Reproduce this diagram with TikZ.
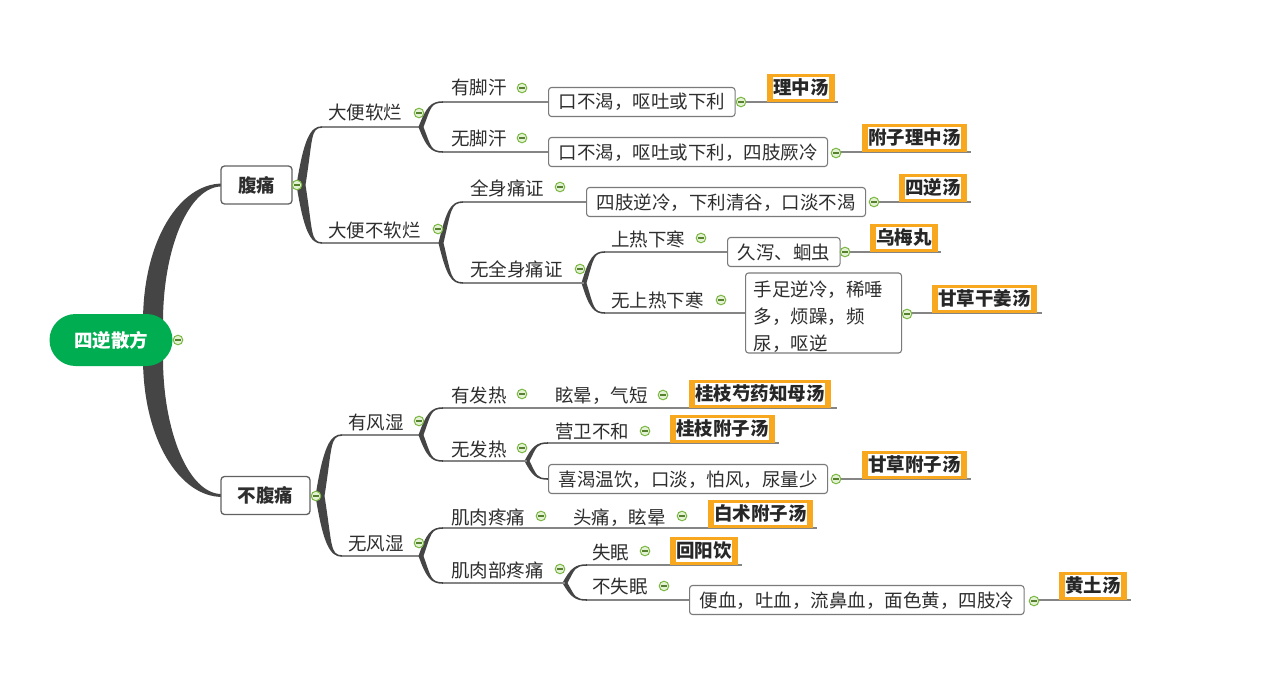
\documentclass[tikz,border=0pt]{standalone}
\usepackage{fontspec}
\setmainfont{Noto Sans CJK SC}
\usetikzlibrary{calc}
\setlength{\fboxsep}{0pt}
\definecolor{txt}{HTML}{2E2E2E}
\definecolor{brc}{HTML}{454545}
\definecolor{ulc}{HTML}{858585}
\definecolor{bxc}{HTML}{7A7A7A}
\definecolor{orc}{HTML}{F7A81E}
\definecolor{grn}{HTML}{00AD50}
\definecolor{mkd}{HTML}{7CB843}
\definecolor{mkf}{HTML}{E3F2D5}
\newcommand\myfs{\fontsize{18.5}{27}\selectfont}
% tapered branch: x0 y0 x1 y1 width
\newcommand\brnch[5]{%
  \pgfmathsetmacro\bdx{#3-#1}%
  \pgfmathsetmacro\bdy{#4-#2}%
  \pgfmathsetmacro\bhw{#5/2}%
  \pgfmathsetmacro\bsg{(#4>#2 ? 1 : -1)*0.8}%
  \pgfmathsetmacro\bya{#4+\bsg}%
  \pgfmathsetmacro\byb{#4-\bsg}%
  \pgfmathsetmacro\bcax{#1+0.35*\bdx}%
  \pgfmathsetmacro\bcay{#2+0.8*\bdy}%
  \pgfmathsetmacro\bcbx{#1+0.45*\bdx}%
  \pgfmathsetmacro\bxl{#1-\bhw}%
  \pgfmathsetmacro\bxr{#1+\bhw}%
  \pgfmathsetmacro\bcaxl{\bcax-\bhw}%
  \pgfmathsetmacro\bcaxr{\bcax+\bhw}%
  \fill[brc] (\bxl,#2) .. controls (\bcaxl,\bcay) and (\bcbx,\bya) .. (#3,\bya)
    -- (#3,\byb) .. controls (\bcbx,\byb) and (\bcaxr,\bcay) .. (\bxr,#2) -- cycle;}
\newcommand\mkr[2]{%
  \draw[mkd, fill=mkf, line width=1pt] (#1,#2) circle (4.8pt);
  \draw[mkd!70!black, line width=1.2pt] (#1-2.6,#2) -- (#1+2.6,#2);}
\newcommand\ornode[4]{%
  \node[anchor=south west, fill=orc, inner xsep=5.5pt, inner ysep=3pt,
        font=\myfs\bfseries, text=txt!85!black] (#1) at (#2,#3)
    {\colorbox{white}{\rule[-4pt]{0pt}{22pt}\hspace{0.5pt}#4\hspace{0.5pt}}\hspace{4pt}};}
\begin{document}
\begin{tikzpicture}[x=1pt,y=-1pt,
  font=\myfs,
  tp/.style={anchor=west, inner sep=0pt, text height=16.5pt, text depth=2.5pt, text=txt},
  bxbase/.style={draw=bxc, line width=1.1pt, rounded corners=3pt, fill=white, anchor=west, text=txt},
  bx/.style={bxbase, inner xsep=10pt, inner ysep=5pt, text height=16.5pt, text depth=2.5pt},
  lone/.style={draw=brc!85, line width=1.3pt, rounded corners=3.5pt, fill=white, minimum height=38pt,
               font=\myfs\bfseries, text=txt, text height=16.5pt, text depth=2.5pt},
  ul/.style={draw=ulc, line width=1.4pt}
]
\useasboundingbox (0,0) rectangle (1265,682);
\fill[white] (0,0) rectangle (1265,682);

% ---- thick root branches
\fill[brc] (143,322) .. controls (143,240) and (180,183.6) .. (222,183.6)
   -- (222,186.4) .. controls (188,186.4) and (163,250) .. (163,322) -- cycle;
\fill[brc] (143,358) .. controls (143,440) and (180,496.9) .. (222,496.9)
   -- (222,494.1) .. controls (188,494.1) and (163,430) .. (163,358) -- cycle;

% ---- level-1 branches
\brnch{301}{185}{322}{127}{9}
\brnch{301}{185}{322}{243}{9}
\brnch{320}{496}{342}{435}{9}
\brnch{320}{496}{342}{556}{9}

% ---- level-2 underlines
\draw[ul] (322,127) -- (421,127);
\draw[ul] (322,243) -- (441,243);
\draw[ul] (342,435) -- (421,435);
\draw[ul] (342,556) -- (421,556);

% ---- level-3 branches
\brnch{421}{127}{443}{102}{5}
\brnch{421}{127}{443}{152}{5}
\brnch{441}{243}{463}{202}{5}
\brnch{441}{243}{463}{283}{5}
\brnch{584}{283}{605}{252}{5}
\brnch{584}{283}{605}{313}{5}
\brnch{421}{435}{443}{408}{5}
\brnch{421}{435}{443}{461}{5}
\brnch{527}{461}{548}{443}{5}
\brnch{527}{461}{548}{479}{5}
\brnch{421}{556}{443}{528}{5}
\brnch{421}{556}{443}{583}{5}
\brnch{565}{583}{587}{565}{5}
\brnch{565}{583}{587}{600}{5}

% ---- underlines
\draw[ul] (443,102) -- (548,102);
\draw[ul] (443,152) -- (548,152);
\draw[ul] (463,202) -- (586,202);
\draw[ul] (463,283) -- (584,283);
\draw[ul] (605,252) -- (727,252);
\draw[ul] (605,313) -- (745,313);
\draw[ul] (741,102) -- (838,102);
\draw[ul] (836,152) -- (971,152);
\draw[ul] (874,202) -- (971,202);
\draw[ul] (845,252) -- (941,252);
\draw[ul] (907,313) -- (1042,313);
\draw[ul] (443,408) -- (837,408);
\draw[ul] (443,461) -- (527,461);
\draw[ul] (548,443) -- (779,443);
\draw[ul] (836,479) -- (971,479);
\draw[ul] (443,528) -- (817,528);
\draw[ul] (443,583) -- (565,583);
\draw[ul] (587,565) -- (742,565);
\draw[ul] (587,600) -- (689,600);
\draw[ul] (1034,600) -- (1131,600);

% ---- root and level 1
\node[fill=grn, rounded corners=26pt, minimum width=123pt, minimum height=52pt,
      font=\myfs\bfseries, text=white] (root) at (111,340) {四逆散方};
\node[lone, minimum width=71pt] (fut) at (256.5,185) {腹痛};
\node[lone, minimum width=89pt] (bfut) at (265.5,495.5) {不腹痛};

% ---- level 2 topics
\node[tp] (dbrl) at (328,113) {大便软烂};
\node[tp] (dbbrl) at (328,230) {大便不软烂};
\node[tp] (yfs) at (348,422) {有风湿};
\node[tp] (wfs) at (348,543) {无风湿};

% ---- level 3+ topics
\node[tp] (yjh) at (451,88) {有脚汗};
\node[tp] (wjh) at (451,138) {无脚汗};
\node[tp] (qstz) at (470,188) {全身痛证};
\node[tp] (wqstz) at (470,269) {无全身痛证};
\node[tp] (srxh) at (611,239) {上热下寒};
\node[tp] (wsrxh) at (611,300) {无上热下寒};
\node[tp] (yfr) at (451,395) {有发热};
\node[tp] (xyqd) at (555,395) {眩晕，气短};
\node[tp] (wfr) at (451,449) {无发热};
\node[tp] (ywbh) at (555,431) {营卫不和};
\node[tp] (jrtt) at (451,517) {肌肉疼痛};
\node[tp] (ttxy) at (573,517) {头痛，眩晕};
\node[tp] (jrbtt) at (451,570) {肌肉部疼痛};
\node[tp] (sm) at (592,552) {失眠};
\node[tp] (bsm) at (592,586) {不失眠};

% ---- boxes
\node[bx] (b1) at (548,102) {口不渴，呕吐或下利};
\node[bx] (b2) at (548,152) {口不渴，呕吐或下利，四肢厥冷};
\node[bx] (b3) at (586,202) {四肢逆冷，下利清谷，口淡不渴};
\node[bx] (b4) at (727,252) {久泻、蛔虫};
\node[bxbase, text width=140pt, align=left, inner xsep=8pt, inner ysep=0pt, minimum height=80pt]
  (b5) at (745,313) {\rule{0pt}{22.3pt}手足逆冷，稀唾\\多，烦躁，频\\尿，呕逆};
\node[bx] (b6) at (548,479) {喜渴温饮，口淡，怕风，尿量少};
\node[bx] (b7) at (689,600) {便血，吐血，流鼻血，面色黄，四肢冷};

% ---- orange labels
\ornode{o1}{767}{102}{理中汤}
\ornode{o2}{862}{152}{附子理中汤}
\ornode{o3}{899}{202}{四逆汤}
\ornode{o4}{870}{252}{乌梅丸}
\ornode{o5}{932}{313}{甘草干姜汤}
\ornode{o6}{689}{408}{桂枝芍药知母汤}
\ornode{o7}{670}{443}{桂枝附子汤}
\ornode{o8}{862}{479}{甘草附子汤}
\ornode{o9}{708}{528}{白术附子汤}
\ornode{o10}{670}{565}{回阳饮}
\ornode{o11}{1059}{600}{黄土汤}

% ---- collapse markers
\mkr{178}{340}
\mkr{297}{185}
\mkr{316}{496}
\mkr{419}{113}
\mkr{438}{229}
\mkr{419}{421}
\mkr{419}{543}
\mkr{522}{88}
\mkr{522}{138}
\mkr{560}{187}
\mkr{580}{269}
\mkr{701}{238}
\mkr{721}{300}
\mkr{741}{102}
\mkr{836}{153}
\mkr{874}{202}
\mkr{845}{252}
\mkr{907}{314}
\mkr{522}{394}
\mkr{663}{395}
\mkr{522}{448}
\mkr{645}{431}
\mkr{836}{479}
\mkr{541}{516}
\mkr{682}{516}
\mkr{560}{569}
\mkr{645}{551}
\mkr{664}{586}
\mkr{1034}{601}
\end{tikzpicture}
\end{document}
